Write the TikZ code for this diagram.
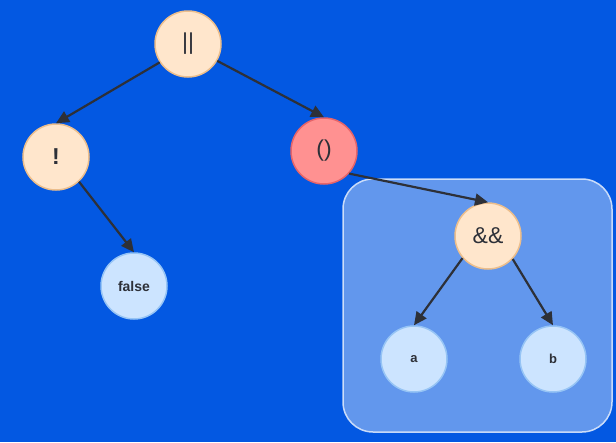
\documentclass[tikz,border=0pt]{standalone}
\usepackage{fontspec}
\setmainfont{Liberation Sans}
\usetikzlibrary{arrows.meta,positioning}
\definecolor{bgblue}{RGB}{3,88,226}
\definecolor{peach}{RGB}{255,230,204}
\definecolor{peachline}{RGB}{236,190,140}
\definecolor{pinkred}{RGB}{255,145,145}
\definecolor{pinkline}{RGB}{230,100,105}
\definecolor{leafblue}{RGB}{204,228,255}
\definecolor{leafline}{RGB}{150,196,245}
\definecolor{inkgray}{RGB}{45,48,56}
\tikzset{
    opnode/.style={circle,minimum size=66pt,inner sep=0pt,fill=peach,draw=peachline,line width=1.5pt,text=inkgray,font=\fontsize{23}{27}\selectfont},
    hotnode/.style={opnode,fill=pinkred,draw=pinkline},
    leafnode/.style={circle,minimum size=66pt,inner sep=0pt,fill=leafblue,draw=leafline,line width=1.5pt,text=inkgray,font=\fontsize{14}{17}\selectfont\bfseries},
    link/.style={draw=inkgray,line width=2.2pt,-{Triangle[length=13pt,width=12pt]}}
}
\begin{document}
\begin{tikzpicture}[x=1pt,y=-1pt]
    \fill[bgblue] (0,0) rectangle (616,442);
    \useasboundingbox (0,0) rectangle (616,442);
    % subtree frame
    \fill[white,fill opacity=0.38,draw=white!85!bgblue,draw opacity=0.9,line width=1.5pt,rounded corners=30pt]
        (343,179) rectangle (612,432);
    % nodes
    \node[opnode] (or) at (188,44) {||};
    \node[opnode,font=\fontsize{23}{27}\selectfont\bfseries] (lnot) at (56,157) {!};
    \node[hotnode] (paren) at (324,151) {()};
    \node[leafnode] (false) at (134,286) {false};
    \node[opnode] (and) at (488,236) {\&\&};
    \node[leafnode,font=\fontsize{13}{16}\selectfont\bfseries] (a) at (414,359) {a};
    \node[leafnode,font=\fontsize{13}{16}\selectfont\bfseries] (b) at (553,359) {b};
    % edges
    \draw[link] (or.-147) -- (lnot.north);
    \draw[link] (or.-30) -- (paren.north);
    \draw[link] (paren.-42) -- (and.north);
    \draw[link] (lnot.-47) -- (false.north);
    \draw[link] (and.-139) -- (a.north);
    \draw[link] (and.-43) -- (b.north);
\end{tikzpicture}
\end{document}
